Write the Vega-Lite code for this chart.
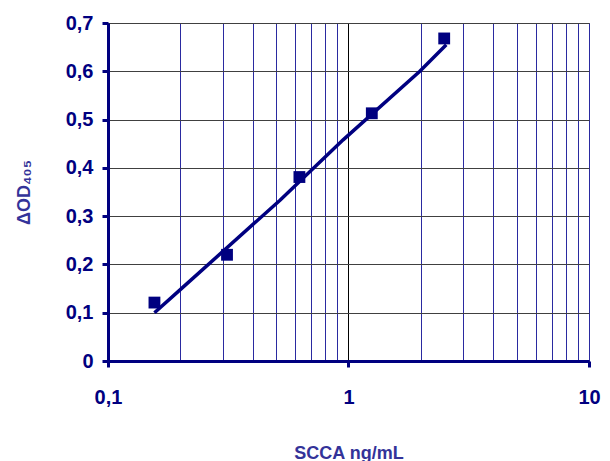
{
  "$schema": "https://vega.github.io/schema/vega-lite/v6.json",
  "autosize": "none",
  "width": 481,
  "height": 338,
  "padding": {"left": 108, "top": 23, "right": 21, "bottom": 100},
  "background": "white",
  "config": {
    "view": {"stroke": "#404040", "strokeWidth": 1},
    "font": "Liberation Sans"
  },
  "datasets": {
    "points": [
      {"conc": 0.156, "od": 0.121},
      {"conc": 0.3125, "od": 0.22},
      {"conc": 0.625, "od": 0.381},
      {"conc": 1.25, "od": 0.513},
      {"conc": 2.5, "od": 0.668}
    ],
    "fit": [
      {"conc": 0.156, "od": 0.1},
      {"conc": 0.203, "od": 0.151},
      {"conc": 0.519, "od": 0.333},
      {"conc": 0.95, "od": 0.458},
      {"conc": 1.98, "od": 0.6},
      {"conc": 2.55, "od": 0.655}
    ]
  },
  "layer": [
    {
      "data": {"name": "fit"},
      "mark": {"type": "line", "color": "#000080", "strokeWidth": 3.5},
      "encoding": {
        "x": {
          "field": "conc", "type": "quantitative",
          "scale": {"type": "log", "domain": [0.1, 10], "nice": false},
          "axis": {
            "values": [0.1, 0.2, 0.3, 0.4, 0.5, 0.6, 0.7, 0.8, 0.9, 1, 2, 3, 4, 5, 6, 7, 8, 9, 10],
            "labelExpr": "(datum.value == 0.1 || datum.value == 1 || datum.value == 10) ? replace(format(datum.value, ''), '.', ',') : ''",
            "title": "SCCA ng/mL",
            "titleColor": "#333399",
            "titleFontSize": 18,
            "titleFont": "Liberation Sans",
            "titleFontWeight": "bold",
            "titlePadding": 37,
            "labelColor": "#000080",
            "labelFontSize": 20,
            "labelFontWeight": "bold",
            "labelFont": "Liberation Sans",
            "labelPadding": 20,
            "labelFlush": false,
            "labelOverlap": false,
            "domainColor": "#000080",
            "domainWidth": 3,
            "tickColor": "#000080",
            "tickWidth": 3,
            "tickSize": 6,
            "tickOpacity": {"condition": {"test": "datum.value == 0.1 || datum.value == 1 || datum.value == 10", "value": 1}, "value": 0},
            "grid": true,
            "gridColor": {"condition": {"test": "datum.value == 1", "value": "#000000"}, "value": "#2a2aa0"},
            "gridWidth": 1,
            "gridOpacity": 1
          }
        },
        "y": {
          "field": "od", "type": "quantitative",
          "scale": {"domain": [0, 0.7], "nice": false},
          "axis": {
            "values": [0, 0.1, 0.2, 0.3, 0.4, 0.5, 0.6, 0.7],
            "labelExpr": "replace(format(datum.value, ''), '.', ',')",
            "title": "ΔOD₄₀₅",
            "titleColor": "#333399",
            "titleFontSize": 18,
            "titleFont": "Liberation Sans",
            "titleFontWeight": "bold",
            "titlePadding": 32,
            "labelColor": "#000080",
            "labelFontSize": 20,
            "labelFontWeight": "bold",
            "labelFont": "Liberation Sans",
            "labelPadding": 9,
            "labelFlush": false,
            "labelOverlap": false,
            "domainColor": "#000080",
            "domainWidth": 3,
            "tickColor": "#000080",
            "tickWidth": 3,
            "tickSize": 6,
            "grid": true,
            "gridColor": "#404040",
            "gridWidth": 1,
            "gridOpacity": 1
          }
        }
      }
    },
    {
      "data": {"name": "points"},
      "mark": {"type": "point", "shape": "square", "filled": true, "color": "#000080", "size": 140, "opacity": 1},
      "encoding": {
        "x": {"field": "conc", "type": "quantitative"},
        "y": {"field": "od", "type": "quantitative"}
      }
    }
  ]
}
